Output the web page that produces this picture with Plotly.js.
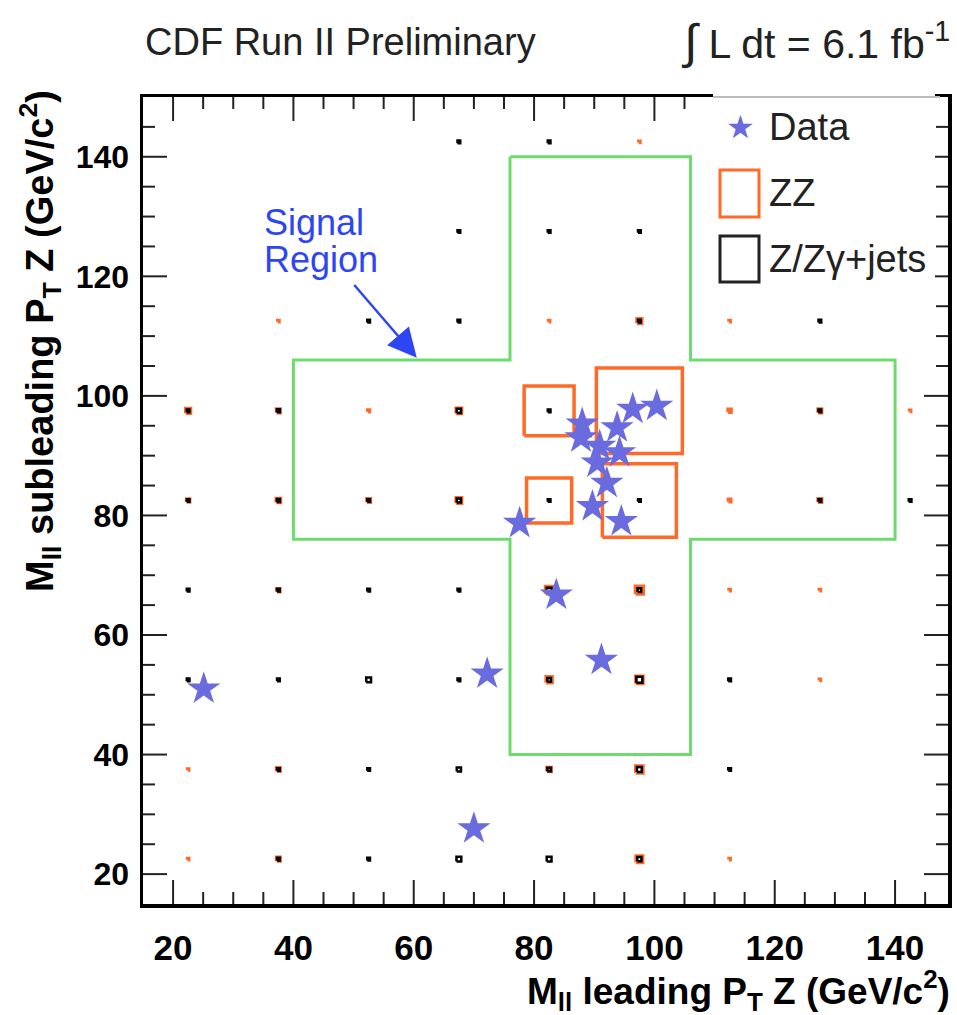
<!DOCTYPE html>
<html><head><meta charset="utf-8">
<script src="https://cdn.plot.ly/plotly-3.0.1.min.js"></script>
<style>html,body{margin:0;padding:0;background:#fff}</style>
</head><body><div id="chart" style="width:957px;height:1015px"></div>
<script>
// ---- Data events (stars) ----
const dataX = [88.0, 87.8, 90.9, 90.5, 93.8, 96.4, 100.4, 94.2, 92.1, 89.7, 94.5, 77.6, 83.7, 91.2, 72.2, 25.1, 70.0];
const dataY = [95.3, 93.0, 91.6, 88.8, 94.7, 97.8, 98.3, 90.5, 85.4, 81.5, 79.0, 78.7, 66.7, 55.8, 53.5, 51.0, 27.6];

// ---- ZZ box histogram (bin centre, box side in GeV) ----
const zzX = [97.5, 37.5, 82.5, 97.5, 112.5, 22.5, 37.5, 52.5, 67.5, 82.5, 97.5, 112.5, 127.5, 142.5,
             22.5, 37.5, 52.5, 67.5, 82.5, 97.5, 112.5, 127.5, 37.5, 82.5, 97.5, 112.5, 127.5,
             82.5, 97.5, 127.5, 22.5, 37.5, 82.5, 97.5, 22.5, 37.5, 97.5, 112.5];
const zzY = [142.5, 112.5, 112.5, 112.5, 112.5, 97.5, 97.5, 97.5, 97.5, 97.5, 97.5, 97.5, 97.5, 97.5,
             82.5, 82.5, 82.5, 82.5, 82.5, 82.5, 82.5, 82.5, 67.5, 67.5, 67.5, 67.5, 67.5,
             52.5, 52.5, 52.5, 37.5, 37.5, 37.5, 37.5, 22.5, 22.5, 22.5, 22.5];
const zzSize = [0.2, 0.2, 0.2, 0.8, 0.2, 0.8, 0.6, 0.3, 0.9, 8.3, 14.3, 0.5, 0.6, 0.2,
                0.5, 0.7, 0.6, 0.9, 7.5, 12.3, 0.4, 0.6, 0.5, 1.2, 1.3, 0.2, 0.2,
                1.0, 1.2, 0.2, 0.2, 0.6, 0.7, 1.2, 0.2, 0.6, 1.1, 0.2];

// ---- Z/Zgamma+jets box histogram ----
const zjX = [67.5, 82.5, 67.5, 82.5, 97.5, 52.5, 67.5, 97.5, 127.5,
             22.5, 37.5, 67.5, 82.5, 127.5,
             22.5, 37.5, 52.5, 67.5, 82.5, 97.5, 127.5, 142.5,
             22.5, 37.5, 52.5, 67.5, 82.5, 97.5,
             22.5, 37.5, 52.5, 67.5, 82.5, 97.5, 112.5,
             37.5, 52.5, 67.5, 82.5, 97.5, 112.5,
             37.5, 52.5, 67.5, 82.5, 97.5];
const zjY = [142.5, 142.5, 127.5, 127.5, 127.5, 112.5, 112.5, 112.5, 112.5,
             97.5, 97.5, 97.5, 97.5, 97.5,
             82.5, 82.5, 82.5, 82.5, 82.5, 82.5, 82.5, 82.5,
             67.5, 67.5, 67.5, 67.5, 67.5, 67.5,
             52.5, 52.5, 52.5, 52.5, 52.5, 52.5, 52.5,
             37.5, 37.5, 37.5, 37.5, 37.5, 37.5,
             22.5, 22.5, 22.5, 22.5, 22.5];
const zjSize = [0.45, 0.45, 0.45, 0.45, 0.45, 0.45, 0.45, 0.45, 0.45,
                0.45, 0.5, 0.7, 0.45, 0.45,
                0.45, 0.5, 0.45, 0.7, 0.45, 0.45, 0.45, 0.45,
                0.45, 0.45, 0.45, 0.45, 0.8, 0.6,
                0.45, 0.45, 0.8, 0.45, 0.6, 1.0, 0.45,
                0.45, 0.45, 0.7, 0.6, 0.8, 0.45,
                0.45, 0.45, 0.8, 0.8, 0.7];

// ---- Signal region outline ----
const regionX = [76, 106, 106, 140, 140, 106, 106, 76, 76, 40, 40, 76, 76];
const regionY = [140, 140, 106, 106, 76, 76, 40, 40, 76, 76, 106, 106, 140];

// ---- Axis ticks ----
const xTicks = [20, 40, 60, 80, 100, 120, 140];
const yTicks = [20, 40, 60, 80, 100, 120, 140];
const xMinor = [25, 30, 35, 45, 50, 55, 65, 70, 75, 85, 90, 95, 105, 110, 115, 125, 130, 135, 145];
const yMinor = [25, 30, 35, 45, 50, 55, 65, 70, 75, 85, 90, 95, 105, 110, 115, 125, 130, 135, 145];

const ORANGE = '#ff6a28', BLACK = '#000000', GREEN = '#6cdc6c', STAR = '#6b6be0', BLUE = '#2e46f2';
const FONT = 'Liberation Sans, Arial, Helvetica, sans-serif';
const X_RANGE = [15, 148.8], Y_RANGE = [15, 150];

const L = 143, R = 9, T = 97, B = 111, W = 957, H = 1015;
const PW = W - L - R, PH = H - T - B;
const px = p => (p - L) / PW;
const py = p => 1 - (p - T) / PH;
// pixel length -> axis units (for inward tick marks)
const xUnits = n => n * (X_RANGE[1] - X_RANGE[0]) / PW;
const yUnits = n => n * (Y_RANGE[1] - Y_RANGE[0]) / PH;

// closed square outlines around each bin centre, separated by nulls
function boxPath(xs, ys, ss) {
  const bx = [], by = [];
  xs.forEach((x, i) => {
    const h = ss[i] / 2, y = ys[i];
    bx.push(x - h, x + h, x + h, x - h, x - h, null);
    by.push(y - h, y - h, y + h, y + h, y - h, null);
  });
  return {x: bx, y: by};
}
const zzBox = boxPath(zzX, zzY, zzSize);
const zjBox = boxPath(zjX, zjY, zjSize);

// inward ticks on all four sides, built from the tick arrays
function tickPath(xv, yv, majorLen, minorLen) {
  const tx = [], ty = [];
  [[xv.major, majorLen], [xv.minor, minorLen]].forEach(([vals, len]) => {
    const dy = yUnits(len);
    vals.forEach(v => {
      tx.push(v, v, null, v, v, null);
      ty.push(Y_RANGE[0], Y_RANGE[0] + dy, null, Y_RANGE[1], Y_RANGE[1] - dy, null);
    });
  });
  [[yv.major, majorLen], [yv.minor, minorLen]].forEach(([vals, len]) => {
    const dx = xUnits(len);
    vals.forEach(v => {
      tx.push(X_RANGE[0], X_RANGE[0] + dx, null, X_RANGE[1], X_RANGE[1] - dx, null);
      ty.push(v, v, null, v, v, null);
    });
  });
  return {x: tx, y: ty};
}
const ticksPath = tickPath({major: xTicks, minor: xMinor}, {major: yTicks, minor: yMinor}, 24, 12);

const traces = [
  {x: ticksPath.x, y: ticksPath.y, type: 'scatter', mode: 'lines', name: 'ticks', connectgaps: false,
   line: {color: '#222', width: 2}, hoverinfo: 'skip'},
  {x: zzBox.x, y: zzBox.y, type: 'scatter', mode: 'lines', name: 'ZZ', connectgaps: false,
   line: {color: ORANGE, width: 3.5}, hoverinfo: 'skip'},
  {x: zjBox.x, y: zjBox.y, type: 'scatter', mode: 'lines', name: 'Z/Z\u03B3+jets', connectgaps: false,
   line: {color: BLACK, width: 2.5}, hoverinfo: 'skip'},
  {x: regionX, y: regionY, type: 'scatter', mode: 'lines', line: {color: GREEN, width: 3}, hoverinfo: 'skip', name: 'Signal Region'},
  {x: dataX, y: dataY, type: 'scatter', mode: 'markers', name: 'Data',
   marker: {symbol: 'star', size: 25, color: STAR, line: {width: 0}}}
];

function axis(range, ticks, fontSize, extra) {
  return Object.assign({
    range: range, tickvals: ticks, ticks: '',
    showline: true, linewidth: 3.5, linecolor: '#000', mirror: true, showgrid: false, zeroline: false,
    tickfont: {family: FONT, size: fontSize, color: '#000', weight: 'bold'}
  }, extra);
}

const layout = {
  width: W, height: H, margin: {l: L, r: R, t: T, b: B, pad: 0},
  paper_bgcolor: '#fff', plot_bgcolor: '#fff', showlegend: false,
  font: {family: FONT, color: '#000'},
  xaxis: axis(X_RANGE, xTicks, 35, {ticklabelstandoff: 10}),
  yaxis: axis(Y_RANGE, yTicks, 32, {ticklabelstandoff: 4}),
  shapes: [
    {type: 'rect', xref: 'paper', yref: 'paper', layer: 'above', x0: px(713), x1: px(935), y0: py(286), y1: py(93),
     fillcolor: '#ffffff', line: {width: 0}},
    {type: 'line', xref: 'paper', yref: 'paper', layer: 'above', x0: px(713), x1: px(940), y0: 1, y1: 1,
     line: {color: '#bdbdbd', width: 2}},
    {type: 'rect', xref: 'paper', yref: 'paper', layer: 'above', x0: px(720), x1: px(759), y0: py(217), y1: py(170),
     line: {color: ORANGE, width: 3}, fillcolor: 'rgba(0,0,0,0)'},
    {type: 'rect', xref: 'paper', yref: 'paper', layer: 'above', x0: px(720), x1: px(759), y0: py(282), y1: py(236),
     line: {color: '#222', width: 3}, fillcolor: 'rgba(0,0,0,0)'}
  ],
  annotations: [
    {xref: 'paper', yref: 'paper', x: px(143), y: py(42), xanchor: 'left', yanchor: 'middle', showarrow: false,
     text: 'CDF Run II Preliminary', font: {family: FONT, size: 38, color: '#222'}},
    {xref: 'paper', yref: 'paper', x: px(952), y: py(42), xanchor: 'right', yanchor: 'middle', showarrow: false,
     text: '<span style="font-size:48px">\u222B</span> L dt = 6.1 fb<sup>-1</sup>', font: {family: FONT, size: 41, color: '#222'}},
    {xref: 'paper', yref: 'paper', x: px(952), y: py(990), xanchor: 'right', yanchor: 'middle', showarrow: false,
     text: 'M<sub>ll</sub> leading P<sub>T</sub> Z (GeV/c<sup>2</sup>)', font: {family: FONT, size: 37, color: '#000', weight: 'bold'}},
    {xref: 'paper', yref: 'paper', x: px(40), y: py(88), xanchor: 'center', yanchor: 'top', showarrow: false, textangle: -90,
     text: 'M<sub>ll</sub> subleading P<sub>T</sub> Z (GeV/c<sup>2</sup>)', font: {family: FONT, size: 38, color: '#000', weight: 'bold'}},
    {xref: 'paper', yref: 'paper', x: px(262), y: py(222), xanchor: 'left', yanchor: 'middle', showarrow: false,
     text: 'Signal', font: {family: FONT, size: 36, color: BLUE}},
    {xref: 'paper', yref: 'paper', x: px(262), y: py(259), xanchor: 'left', yanchor: 'middle', showarrow: false,
     text: 'Region', font: {family: FONT, size: 36, color: BLUE}},
    {xref: 'x', yref: 'y', axref: 'x', ayref: 'y', x: 60.5, y: 106.4, ax: 49.9, ay: 118.8, text: '', showarrow: true,
     arrowhead: 2, arrowsize: 2.3, arrowwidth: 2.5, arrowcolor: BLUE, standoff: 0, startstandoff: 0},
    {xref: 'paper', yref: 'paper', x: px(740), y: py(127), xanchor: 'center', yanchor: 'middle', showarrow: false,
     text: '\u2605', font: {family: 'DejaVu Sans', size: 32, color: STAR}},
    {xref: 'paper', yref: 'paper', x: px(767), y: py(127), xanchor: 'left', yanchor: 'middle', showarrow: false,
     text: 'Data', font: {family: FONT, size: 38, color: '#222'}},
    {xref: 'paper', yref: 'paper', x: px(767), y: py(193), xanchor: 'left', yanchor: 'middle', showarrow: false,
     text: 'ZZ', font: {family: FONT, size: 38, color: '#222'}},
    {xref: 'paper', yref: 'paper', x: px(767), y: py(259), xanchor: 'left', yanchor: 'middle', showarrow: false,
     text: 'Z/Z\u03B3+jets', font: {family: FONT, size: 38, color: '#222'}}
  ]
};

Plotly.newPlot('chart', traces, layout, {displayModeBar: false, staticPlot: true});
</script></body></html>
